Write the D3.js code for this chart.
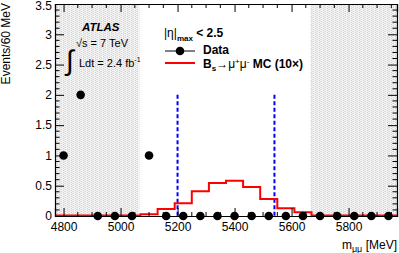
<!DOCTYPE html>
<html>
<head>
<meta charset="utf-8">
<script src="https://cdn.jsdelivr.net/npm/d3@7"></script>
<style>
  body { margin: 0; background: #fff; }
  text { font-family: "Liberation Sans", Arial, sans-serif; }
</style>
</head>
<body>
<div id="chart"></div>
<script>
// bin centres (MeV), 60 MeV bins
var massBins = [4800, 4860, 4920, 4980, 5040, 5100, 5160, 5220, 5280, 5340,
                5400, 5460, 5520, 5580, 5640, 5700, 5760, 5820, 5880, 5940];
var dataCounts = [1, 2, 0, 0, 0, 1, 0, 0, 0, 0,
                  0, 0, 0, 0, 0, 0, 0, 0, 0, 0];
var mcCounts = [0.01, 0.01, 0.01, 0.01, 0.01, 0.03, 0.115, 0.21, 0.41, 0.545,
                0.58, 0.48, 0.28, 0.13, 0.06, 0.01, 0.01, 0.01, 0.01, 0.01];
var blinded = [5066, 5666];
var signalWindow = [5200, 5540];
var xTicks = [4800, 5000, 5200, 5400, 5600, 5800];
var yTicks = [0, 0.5, 1, 1.5, 2, 2.5, 3, 3.5];
var binWidth = 60;

var W = 399, H = 253;
var margin = {top: 4, right: 2, bottom: 37, left: 55};
var width = W - margin.left - margin.right,
    height = H - margin.top - margin.bottom;

var svg = d3.select("#chart").append("svg")
  .attr("width", W).attr("height", H);

// dotted fill for the side bands
var defs = svg.append("defs");
var pat = defs.append("pattern")
  .attr("id", "dots").attr("patternUnits", "userSpaceOnUse")
  .attr("width", 4).attr("height", 2);
pat.append("rect").attr("width", 4).attr("height", 2).attr("fill", "#f3f3f3");
pat.append("rect").attr("x", 0).attr("y", 0).attr("width", 1).attr("height", 1).attr("fill", "#d2d2d2");
pat.append("rect").attr("x", 2).attr("y", 1).attr("width", 1).attr("height", 1).attr("fill", "#d6d6d6");
pat.append("rect").attr("x", 1).attr("y", 1).attr("width", 1).attr("height", 1).attr("fill", "#e2e2e2");

var g = svg.append("g")
  .attr("transform", "translate(" + margin.left + "," + margin.top + ")");

var x = d3.scaleLinear()
  .domain([massBins[0] - binWidth / 2, massBins[massBins.length - 1] + binWidth / 2])
  .range([0, width]);
var y = d3.scaleLinear().domain([0, 3.5]).range([height, 0]);

g.append("rect").attr("x", 0).attr("y", 0)
  .attr("width", x(blinded[0])).attr("height", height)
  .attr("fill", "url(#dots)");
g.append("rect").attr("x", x(blinded[1])).attr("y", 0)
  .attr("width", width - x(blinded[1])).attr("height", height)
  .attr("fill", "url(#dots)");

// signal window
g.selectAll(".win").data(signalWindow).enter().append("line")
  .attr("x1", d => x(d)).attr("x2", d => x(d))
  .attr("y1", y(2)).attr("y2", height)
  .attr("stroke", "#0000ff").attr("stroke-width", 2)
  .attr("stroke-dasharray", "4,2.5");

// MC histogram as steps
var steps = [];
massBins.forEach(function(c, i) {
  steps.push([c - binWidth / 2, mcCounts[i]]);
  steps.push([c + binWidth / 2, mcCounts[i]]);
});
g.append("path")
  .datum(steps)
  .attr("fill", "none").attr("stroke", "#ff0000").attr("stroke-width", 2)
  .attr("d", d3.line().x(d => x(d[0])).y(d => y(d[1])));

// axes frame, ticks inside
var xAxisB = d3.axisBottom(x).tickValues(xTicks).tickSize(-8).tickFormat(d3.format("d"));
var xAxisT = d3.axisTop(x).tickValues(xTicks).tickSize(-8).tickFormat("");
var yAxisL = d3.axisLeft(y).tickValues(yTicks).tickSize(-9).tickFormat(d => d);
var yAxisR = d3.axisRight(y).tickValues(yTicks).tickSize(-9).tickFormat("");

var xMinor = d3.range(4800, 5970, 50).filter(v => v % 200 !== 0);
var yMinor = d3.range(0, 3.5, 0.1).filter(v => Math.abs(v * 2 - Math.round(v * 2)) > 0.01);

function minor(sel, horiz, at, len) {
  sel.selectAll(null).data(horiz ? xMinor : yMinor).enter().append("line")
    .attr("x1", d => horiz ? x(d) : at).attr("x2", d => horiz ? x(d) : at + len)
    .attr("y1", d => horiz ? at : y(d)).attr("y2", d => horiz ? at + len : y(d))
    .attr("stroke", "#000").attr("stroke-width", 1);
}
var frame = g.append("g");
minor(frame, true, height, -4);
minor(frame, true, 0, 4);
minor(frame, false, 0, 4.5);
minor(frame, false, width, -4.5);

function style(ax) {
  ax.select(".domain").attr("stroke", "#000").attr("stroke-width", 1.2);
  ax.selectAll(".tick line").attr("stroke", "#000");
  ax.selectAll("text").attr("fill", "#000").style("font-size", "12px")
    .style("font-family", "'Liberation Sans', Arial, sans-serif");
}
var ax1 = frame.append("g").attr("transform", "translate(0," + height + ")").call(xAxisB);
ax1.selectAll("text").attr("dy", "0.95em").attr("y", 4);
style(ax1);
style(frame.append("g").call(xAxisT));
var ax3 = frame.append("g").call(yAxisL);
ax3.selectAll("text").attr("x", -3);
ax3.selectAll(".tick text").filter(d => d === 3.5).attr("dy", "0.45em");
style(ax3);
style(frame.append("g").attr("transform", "translate(" + width + ",0)").call(yAxisR));

// data points
g.selectAll(".pt").data(massBins).enter().append("circle")
  .attr("cx", d => x(d)).attr("cy", (d, i) => y(dataCounts[i]))
  .attr("r", 4.3).attr("fill", "#000");

// axis titles
svg.append("text")
  .attr("transform", "translate(10,3) rotate(-90)")
  .attr("text-anchor", "end").style("font-size", "12px").text("Events/60 MeV");
var xl = svg.append("text").attr("x", 397).attr("y", 249)
  .attr("text-anchor", "end").style("font-size", "12px");
xl.append("tspan").text("m");
xl.append("tspan").attr("dy", 3).style("font-size", "9px").text("μμ");
xl.append("tspan").attr("dy", -3).text(" [MeV]");

// ATLAS label
svg.append("text").attr("x", 82).attr("y", 31)
  .style("font-size", "11.5px").style("font-weight", "bold").style("font-style", "italic")
  .text("ATLAS");
svg.append("text").attr("x", 76).attr("y", 47).style("font-size", "11px")
  .text("\u221As = 7 TeV");
svg.append("text").attr("x", 66).attr("y", 70).style("font-size", "28px")
  .style("font-family", "'Liberation Sans', Arial, sans-serif")
  .text("\u222B");
var lt = svg.append("text").attr("x", 79).attr("y", 67).style("font-size", "11px");
lt.append("tspan").text("Ldt = 2.4 fb");
lt.append("tspan").attr("dy", -5).style("font-size", "7px").text("-1");

// legend
var l1 = svg.append("text").attr("x", 164).attr("y", 37).style("font-size", "12px");
l1.append("tspan").text("|\u03B7|");
l1.append("tspan").attr("dy", 4).style("font-size", "8px").style("font-weight", "bold").text("max");
l1.append("tspan").attr("dy", -4).style("font-weight", "bold").text(" < 2.5");

svg.append("line").attr("x1", 165).attr("x2", 195).attr("y1", 51).attr("y2", 51)
  .attr("stroke", "#000").attr("stroke-width", 1);
svg.append("circle").attr("cx", 180).attr("cy", 51).attr("r", 4.3).attr("fill", "#000");
svg.append("text").attr("x", 203).attr("y", 54).style("font-size", "12px")
  .style("font-weight", "bold").text("Data");

svg.append("line").attr("x1", 165).attr("x2", 195).attr("y1", 63).attr("y2", 63)
  .attr("stroke", "#ff0000").attr("stroke-width", 2);
var l3 = svg.append("text").attr("x", 203).attr("y", 68).style("font-size", "12px")
  .style("font-weight", "bold");
l3.append("tspan").text("B");
l3.append("tspan").attr("dy", 3).style("font-size", "8px").text("s");
l3.append("tspan").attr("dy", -3).style("font-weight", "normal").text("\u2192\u03BC");
l3.append("tspan").attr("dy", -4).style("font-size", "8px").style("font-weight", "normal").text("+");
l3.append("tspan").attr("dy", 4).style("font-weight", "normal").text("\u03BC");
l3.append("tspan").attr("dy", -4).style("font-size", "8px").style("font-weight", "normal").text("-");
l3.append("tspan").attr("dy", 4).text(" MC (10\u00D7)");
</script>
</body>
</html>
